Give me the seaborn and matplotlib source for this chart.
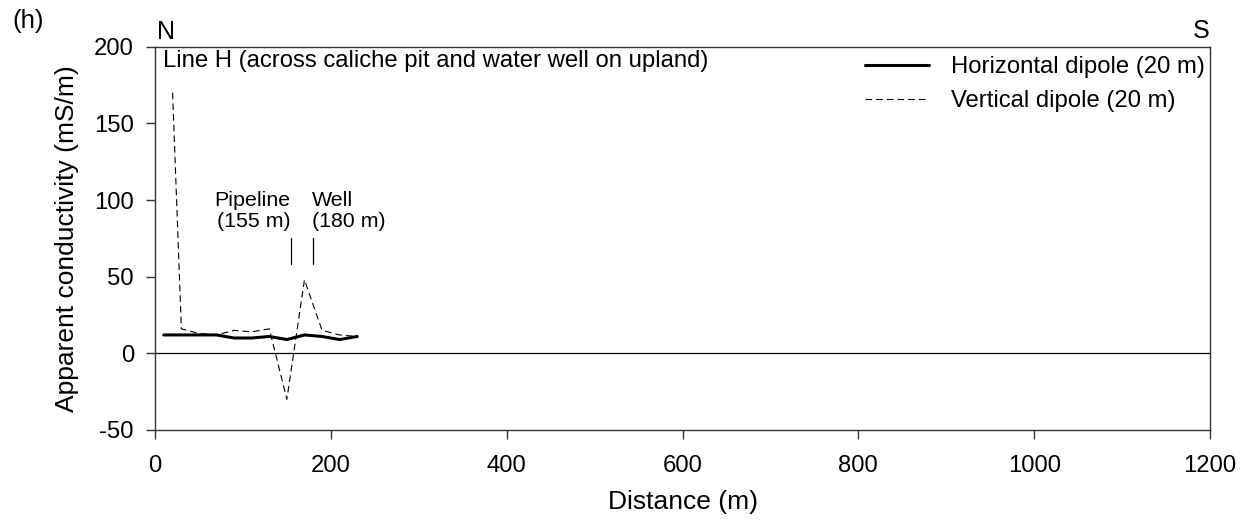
import matplotlib
matplotlib.use("Agg")
import matplotlib.pyplot as plt
import seaborn as sns
import pandas as pd

# Data
horiz_x = [10, 70, 90, 110, 130, 150, 170, 190, 210, 230]
horiz_y = [12, 12, 10, 10, 11, 9, 12, 11, 9, 11]
vert_x = [20, 30, 50, 70, 90, 110, 130, 150, 170, 190, 210, 230]
vert_y = [170, 16, 13, 12, 15, 14, 16, -30, 48, 15, 12, 11]
x_ticks = [0, 200, 400, 600, 800, 1000, 1200]
y_ticks = [-50, 0, 50, 100, 150, 200]
series_names = ["Horizontal dipole (20 m)", "Vertical dipole (20 m)"]
markers_x = [155, 180]

sns.set_style("ticks")
plt.rcParams["font.family"] = ["Liberation Sans", "DejaVu Sans"]
plt.rcParams["axes.unicode_minus"] = False
plt.rcParams["text.color"] = "black"
plt.rcParams["axes.labelcolor"] = "black"
plt.rcParams["xtick.color"] = "#333333"
plt.rcParams["ytick.color"] = "#333333"
plt.rcParams["xtick.labelcolor"] = "black"
plt.rcParams["ytick.labelcolor"] = "black"

DASH = (0, (6, 3.6))

df = pd.concat([
    pd.DataFrame({"Distance": horiz_x, "Cond": horiz_y, "Series": series_names[0]}),
    pd.DataFrame({"Distance": vert_x, "Cond": vert_y, "Series": series_names[1]}),
], ignore_index=True)

fig = plt.figure(figsize=(12.47, 5.22), dpi=100)
ax = fig.add_axes([155 / 1247, 1 - 430 / 522, 1055 / 1247, 383.3 / 522])

ax.axhline(0, color="black", lw=0.9, zorder=1)

sns.lineplot(data=df[df.Series == series_names[0]], x="Distance", y="Cond",
             color="black", lw=2.2, ax=ax, label=series_names[0], sort=False)
sns.lineplot(data=df[df.Series == series_names[1]], x="Distance", y="Cond",
             color="black", lw=0.8, ax=ax, label=series_names[1], sort=False)
ax.lines[-1].set_linestyle(DASH)

ax.set_xlim(0, 1200)
ax.set_ylim(-50, 200)
ax.set_xticks(x_ticks)
ax.set_yticks(y_ticks)
ax.tick_params(labelsize=17.2, length=6.7, width=1, direction="out")
ax.tick_params(axis="x", pad=11)
ax.tick_params(axis="y", pad=8.5)
for s in ax.spines.values():
    s.set_linewidth(1.0)
    s.set_color("#333333")
ax.set_xlabel("Distance (m)", fontsize=19)
ax.set_ylabel("Apparent conductivity (mS/m)", fontsize=19)
ax.xaxis.set_label_coords(0.5, -0.1566)
ax.yaxis.set_label_coords(-0.072, 0.5)

leg = ax.legend(loc="upper right", bbox_to_anchor=(1.0, 0.987), frameon=False,
                fontsize=17.2, handlelength=2.68, handletextpad=0.95,
                borderaxespad=0.0, borderpad=0.2, labelspacing=0.5)
leg.get_lines()[1].set_linestyle(DASH)
leg.get_lines()[1].set_linewidth(0.8)

ax.text(9.4, 187, "Line H (across caliche pit and water well on upland)",
        fontsize=17.2, ha="left", va="baseline")
for mx in markers_x:
    ax.plot([mx, mx], [58.3, 75], color="black", lw=0.9)
ax.text(154, 96.3, "Pipeline", fontsize=15.4, ha="right", va="baseline")
ax.text(154, 82.6, "(155 m)", fontsize=15.4, ha="right", va="baseline")
ax.text(178.5, 96.3, "Well", fontsize=15.4, ha="left", va="baseline")
ax.text(178.5, 82.6, "(180 m)", fontsize=15.4, ha="left", va="baseline")

ax.text(0.002, 1.02, "N", transform=ax.transAxes, fontsize=18, ha="left", va="baseline")
ax.text(1.0, 1.022, "S", transform=ax.transAxes, fontsize=18, ha="right", va="baseline")
fig.text(12 / 1247, 1 - 28 / 522, "(h)", fontsize=18.5, ha="left", va="baseline")

fig.savefig("out.png", dpi=100)
